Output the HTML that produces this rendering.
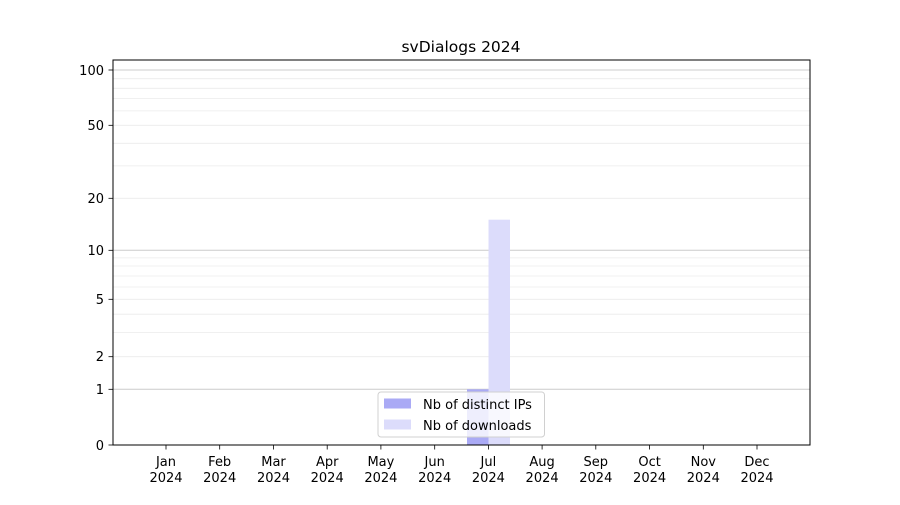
<!DOCTYPE html>
<html><head><style>body{margin:0;background:#fff}svg text{font-family:"DejaVu Sans","Liberation Sans",sans-serif;font-size:13px;fill:#000}</style></head><body>
<svg width="900" height="500" xmlns="http://www.w3.org/2000/svg">
<rect width="900" height="500" fill="#fff"/>
<g stroke="#ebebeb" stroke-width="0.8">
<line x1="113" x2="810" y1="332.4" y2="332.4"/><line x1="113" x2="810" y1="314.2" y2="314.2"/>
<line x1="113" x2="810" y1="287.0" y2="287.0"/><line x1="113" x2="810" y1="276.0" y2="276.0"/>
<line x1="113" x2="810" y1="266.0" y2="266.0"/><line x1="113" x2="810" y1="257.9" y2="257.9"/>
<line x1="113" x2="810" y1="165.9" y2="165.9"/><line x1="113" x2="810" y1="143.3" y2="143.3"/>
<line x1="113" x2="810" y1="110.9" y2="110.9"/><line x1="113" x2="810" y1="98.5" y2="98.5"/>
<line x1="113" x2="810" y1="88.3" y2="88.3"/><line x1="113" x2="810" y1="78.7" y2="78.7"/>
<line x1="113" x2="810" y1="356.7" y2="356.7"/><line x1="113" x2="810" y1="299.3" y2="299.3"/>
<line x1="113" x2="810" y1="198.3" y2="198.3"/><line x1="113" x2="810" y1="125.3" y2="125.3"/>
</g>
<g stroke="#cccccc" stroke-width="1">
<line x1="113" x2="810" y1="389.3" y2="389.3"/><line x1="113" x2="810" y1="250.3" y2="250.3"/><line x1="113" x2="810" y1="70" y2="70"/>
</g>
<rect x="467" y="389.3" width="21.5" height="55.7" fill="#aaaaf5"/>
<rect x="488.5" y="219.7" width="21.5" height="225.3" fill="#dcdcfb"/>
<rect x="113" y="60" width="697" height="385" fill="none" stroke="#000" stroke-width="1"/>
<g stroke="#000" stroke-width="0.8">
<line x1="108.5" x2="113" y1="445" y2="445"/><line x1="108.5" x2="113" y1="389.3" y2="389.3"/>
<line x1="108.5" x2="113" y1="356.7" y2="356.7"/><line x1="108.5" x2="113" y1="299.3" y2="299.3"/>
<line x1="108.5" x2="113" y1="250.3" y2="250.3"/><line x1="108.5" x2="113" y1="198.3" y2="198.3"/>
<line x1="108.5" x2="113" y1="125.3" y2="125.3"/><line x1="108.5" x2="113" y1="70" y2="70"/>
</g>
<g text-anchor="end">
<text x="104" y="450">0</text><text x="104" y="394">1</text><text x="104" y="361">2</text>
<text x="104" y="304">5</text><text x="104" y="255">10</text><text x="104" y="203">20</text>
<text x="104" y="130">50</text><text x="104" y="75">100</text>
</g>
<g text-anchor="middle" id="xt">
<g stroke="#000" stroke-width="0.8">
<line x1="166" x2="166" y1="445" y2="449.5"/><line x1="219.7" x2="219.7" y1="445" y2="449.5"/><line x1="273.5" x2="273.5" y1="445" y2="449.5"/><line x1="327.2" x2="327.2" y1="445" y2="449.5"/><line x1="380.9" x2="380.9" y1="445" y2="449.5"/><line x1="434.7" x2="434.7" y1="445" y2="449.5"/><line x1="488.4" x2="488.4" y1="445" y2="449.5"/><line x1="542.1" x2="542.1" y1="445" y2="449.5"/><line x1="595.8" x2="595.8" y1="445" y2="449.5"/><line x1="649.6" x2="649.6" y1="445" y2="449.5"/><line x1="703.3" x2="703.3" y1="445" y2="449.5"/><line x1="757" x2="757" y1="445" y2="449.5"/>
</g>
<text x="166" y="466">Jan</text><text x="219.7" y="466">Feb</text><text x="273.5" y="466">Mar</text><text x="327.2" y="466">Apr</text><text x="380.9" y="466">May</text><text x="434.7" y="466">Jun</text><text x="488.4" y="466">Jul</text><text x="542.1" y="466">Aug</text><text x="595.8" y="466">Sep</text><text x="649.6" y="466">Oct</text><text x="703.3" y="466">Nov</text><text x="757" y="466">Dec</text>
<text x="166" y="482">2024</text><text x="219.7" y="482">2024</text><text x="273.5" y="482">2024</text><text x="327.2" y="482">2024</text><text x="380.9" y="482">2024</text><text x="434.7" y="482">2024</text><text x="488.4" y="482">2024</text><text x="542.1" y="482">2024</text><text x="595.8" y="482">2024</text><text x="649.6" y="482">2024</text><text x="703.3" y="482">2024</text><text x="757" y="482">2024</text>
</g>
<text x="461" y="52" text-anchor="middle" style="font-size:15.5px">svDialogs 2024</text>
<rect x="378" y="392" width="166.5" height="45" rx="3" fill="#fff" fill-opacity="0.8" stroke="#d0d0d0"/>
<rect x="384" y="398.5" width="27" height="10" fill="#aaaaf5"/>
<rect x="384" y="419.5" width="27" height="10" fill="#dcdcfb"/>
<text x="423" y="409">Nb of distinct IPs</text>
<text x="423" y="430">Nb of downloads</text>
</svg>
</body></html>
